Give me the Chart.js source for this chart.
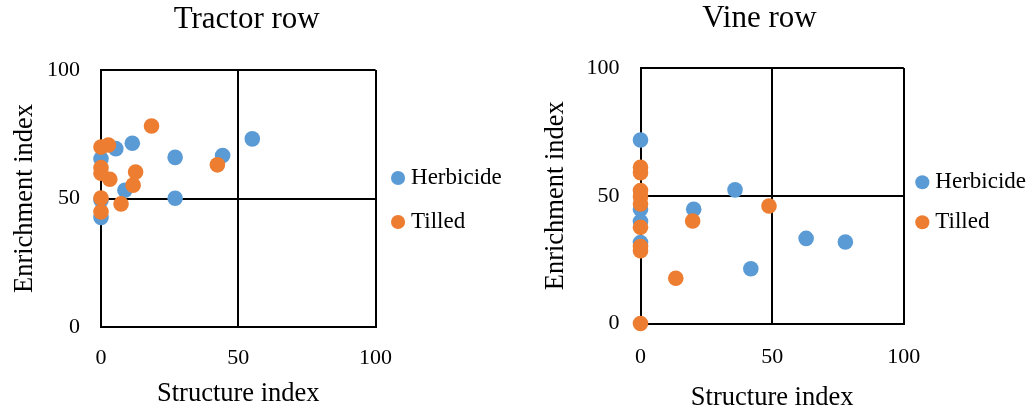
<!DOCTYPE html>
<html><head><meta charset="utf-8">
<script src="https://cdn.jsdelivr.net/npm/chart.js@4.4.1/dist/chart.umd.min.js"></script>
<style>
html,body{margin:0;padding:0;background:#fff;overflow:hidden;width:1031px;height:412px;position:relative;}
canvas{position:absolute;top:0;}
</style></head><body>
<canvas id="c1" width="526" height="412" style="left:-11px;width:526px;height:412px"></canvas>
<canvas id="c2" width="553" height="412" style="left:482.5px;width:553px;height:412px"></canvas>
<script>
// ---- data ----
const seriesNames = ['Herbicide', 'Tilled'];
const chartTitles = ['Tractor row', 'Vine row'];
const xAxisTitle = 'Structure index';
const yAxisTitle = 'Enrichment index';
const tickValues = [0, 50, 100];

const tractorHerbicideX = [0, 5.4, 11.4, 27, 44.3, 55.1, 27, 8.7, 0, 0];
const tractorHerbicideY = [65.5, 69.4, 71.5, 66, 66.7, 73.2, 50.1, 53.2, 49.4, 42.6];
const tractorTilledX = [18.4, 0, 2.7, 0, 0, 3.2, 12.6, 11.7, 42.4, 7.3, 0, 0];
const tractorTilledY = [78.2, 70.0, 70.8, 62.0, 59.8, 57.5, 60.3, 55.2, 63.1, 47.9, 50.2, 44.8];

const vineHerbicideX = [0, 35.9, 20.2, 62.9, 77.8, 41.9, 0, 0, 0];
const vineHerbicideY = [71.8, 52.3, 44.7, 33.3, 31.9, 21.4, 44.7, 39.9, 31.7];
const vineTilledX = [0, 0, 0, 0, 0, 0, 0, 0, 19.8, 13.4, 48.8, 0];
const vineTilledY = [61.1, 59.0, 52.0, 49.6, 46.8, 37.7, 30.1, 28.5, 40.1, 17.7, 46.0, 0];

const colors = ['#5B9BD5', '#ED7D31'];
const FONT = '"Liberation Serif", "Times New Roman", serif';

function pts(xs, ys) { return xs.map((x, i) => ({x: x, y: ys[i]})); }

function makeChart(id, title, hx, hy, tx, ty, L) {
  return new Chart(document.getElementById(id), {
    type: 'scatter',
    data: {
      datasets: [
        {label: seriesNames[0], data: pts(hx, hy), backgroundColor: colors[0], borderWidth: 0,
         pointRadius: 7.8, pointHoverRadius: 7.8, clip: false, order: 1},
        {label: seriesNames[1], data: pts(tx, ty), backgroundColor: colors[1], borderWidth: 0,
         pointRadius: 7.8, pointHoverRadius: 7.8, clip: false, order: 0}
      ]
    },
    options: {
      responsive: false,
      animation: false,
      devicePixelRatio: 1,
      events: [],
      layout: {padding: {left: 0, right: L.padR, top: 0, bottom: 0}},
      plugins: {
        tooltip: {enabled: false},
        title: {
          display: true, text: title, color: '#000',
          font: {family: FONT, size: 31, weight: 'normal', lineHeight: 1.2},
          padding: {top: L.titleTop, bottom: L.titleBottom}
        },
        legend: {
          position: 'right', fullSize: false,
          title: {display: true, text: ' ', font: {size: L.legTitle, lineHeight: 1}, padding: 0},
          labels: {
            usePointStyle: true, pointStyle: 'circle', boxWidth: 3, boxHeight: 10,
            padding: L.legPad, color: '#000',
            font: {family: FONT, size: 23},
            sort: (a, b) => a.datasetIndex - b.datasetIndex
          }
        }
      },
      scales: {
        x: {
          type: 'linear', min: 0, max: 100,
          afterBuildTicks: (s) => { s.ticks = tickValues.map(v => ({value: v})); },
          afterFit: (s) => { s.height = L.xH; },
          ticks: {color: '#000', font: {family: FONT, size: 22}, padding: L.xTickPad, maxRotation: 0},
          grid: {color: '#000', lineWidth: 2, drawTicks: false},
          border: {color: '#000', width: 2},
          title: {display: true, text: xAxisTitle, color: '#000',
                  font: {family: FONT, size: 26.5, lineHeight: 1}, padding: {top: 0, bottom: L.xTitlePad}}
        },
        y: {
          type: 'linear', min: 0, max: 100,
          afterBuildTicks: (s) => { s.ticks = tickValues.map(v => ({value: v})); },
          afterFit: (s) => { s.width = L.yW; },
          ticks: {color: '#000', font: {family: FONT, size: 22}, padding: 21},
          grid: {color: '#000', lineWidth: 2, drawTicks: false},
          border: {color: '#000', width: 2},
          title: {display: true, text: yAxisTitle, color: '#000',
                  font: {family: FONT, size: 26.5, lineHeight: 1}, padding: {top: L.yTitlePad, bottom: 0}}
        }
      }
    }
  });
}

makeChart('c1', chartTitles[0], tractorHerbicideX, tractorHerbicideY, tractorTilledX, tractorTilledY,
  {padR: 10.6, titleTop: 1.6, titleBottom: 31.2, legTitle: 3, legPad: 21, xH: 85, xTickPad: 18, xTitlePad: 4.85, yW: 112, yTitlePad: 22.75});
makeChart('c2', chartTitles[1], vineHerbicideX, vineHerbicideY, vineTilledX, vineTilledY,
  {padR: 0, titleTop: 0.55, titleBottom: 30.25, legTitle: 13, legPad: 17, xH: 88.5, xTickPad: 20.5, xTitlePad: 0.35, yW: 157.5, yTitlePad: 60.25});
</script>
</body></html>
